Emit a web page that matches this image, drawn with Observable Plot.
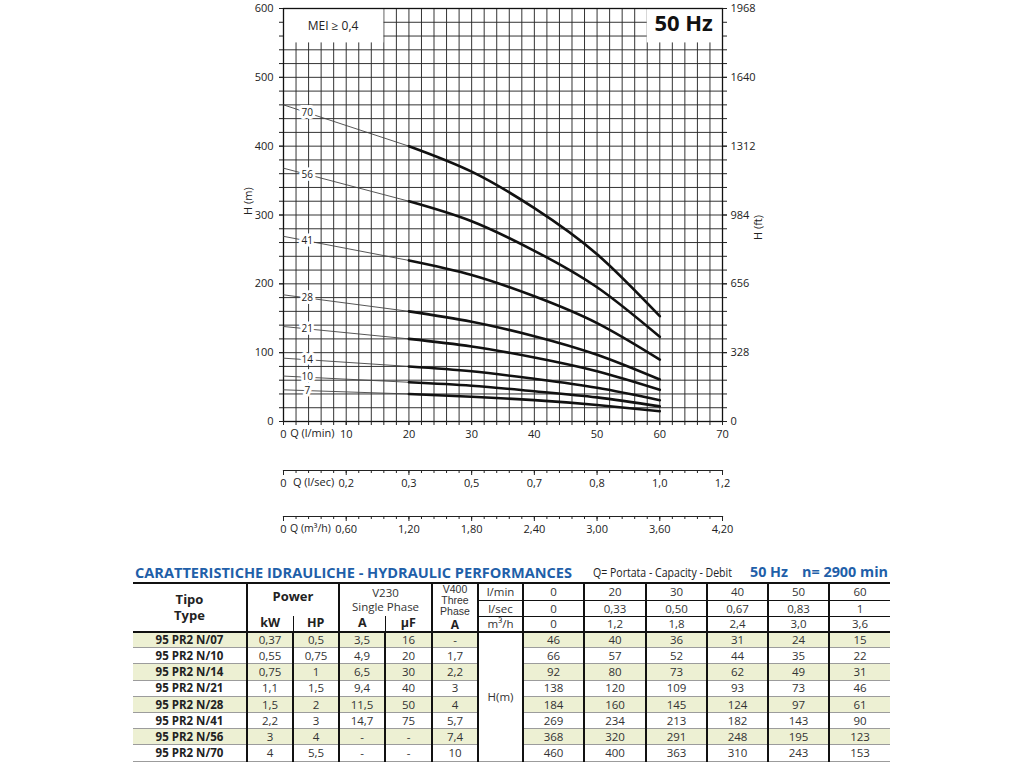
<!DOCTYPE html>
<html><head><meta charset="utf-8">
<script src="https://cdn.jsdelivr.net/npm/d3@7"></script>
<script src="https://cdn.jsdelivr.net/npm/@observablehq/plot@0.6"></script>
<style>
body{margin:0;background:#fff;font-family:"Open Sans",sans-serif;color:#222;}
#page{position:relative;width:1024px;height:768px;overflow:hidden;background:#fff;}
.abs{position:absolute;white-space:nowrap;}
#title{left:135px;top:562px;font-size:15px;font-weight:700;color:#1f5fa9;line-height:20px;}
#sub1{left:593px;top:564px;font-size:12px;color:#222;line-height:18px;}
#sub2{left:750px;top:562px;font-size:14.5px;font-weight:700;color:#1f5fa9;line-height:20px;}
#sub3{left:802px;top:562px;font-size:14.5px;font-weight:700;color:#1f5fa9;line-height:20px;}
#tbl{left:133px;top:582px;}
table{border-collapse:collapse;table-layout:fixed;width:757px;font-size:11.5px;color:#333;}
td{padding:0;text-align:center;vertical-align:middle;border-left:2px solid #111;border-right:2px solid #111;
   border-top:1px solid #9c9c9c;border-bottom:1px solid #9c9c9c;line-height:1;white-space:nowrap;}
td.first{border-left:none;}
td.last{border-right:none;}
tr.h1 td{border-top:2px solid #111;}
tr.h1 td.q, tr.h2 td{border-bottom:1px solid #111;}
tr.h3 td, td.tipo, td.v400{border-bottom:2px solid #111;}
td.nb{border-bottom:none !important;}
tr.h3 td.sub{border-top:none;font-weight:700;font-size:12.5px;color:#222;line-height:14px;}
td.kw,td.a{border-right:1px solid #111;}
td.hp,td.uf{border-left:1px solid #111;}
td.tipo{font-weight:700;font-size:13px;line-height:16px;color:#222;}
td.pw{font-weight:700;font-size:13px;color:#222;vertical-align:top;padding-top:6px;}
td.v230{font-size:11.5px;line-height:14px;color:#333;vertical-align:top;padding-top:2px;}
td.v400{font-family:"Liberation Sans",Arial,sans-serif;font-size:10.5px;color:#333;}
td.v400 div{line-height:11.2px;height:11.2px;}
td.v400 div.bA{font-family:"Open Sans",sans-serif;font-weight:700;font-size:12px;color:#222;line-height:13px;height:13px;}
td.name{font-weight:700;color:#222;}
tr.h1{height:17px;} tr.h2{height:16px;} tr.h3{height:15px;}
tr.b{height:16.2px;}
tr.alt td{background:#edf0d3;}
td.hm{background:#fff !important;}
</style></head><body>
<div id="page">
  <div id="main" class="abs" style="left:0;top:0;"></div>
  <div id="sec1" class="abs" style="left:0;top:450px;"></div>
  <div id="sec2" class="abs" style="left:0;top:496px;"></div>
  <div id="title" class="abs">CARATTERISTICHE IDRAULICHE - HYDRAULIC PERFORMANCES</div>
  <div id="sub1" class="abs">Q= Portata - Capacity - Debit</div>
  <div id="sub2" class="abs">50 Hz</div>
  <div id="sub3" class="abs">n= 2900 min</div>
  <div id="tbl" class="abs"></div>
</div>
<script>
// ---------- data ----------
const flowLmin = [0, 20, 30, 40, 50, 60];
const flowLsecLabels = ["0", "0,33", "0,50", "0,67", "0,83", "1"];
const flowM3hLabels = ["0", "1,2", "1,8", "2,4", "3,0", "3,6"];

const modelNames = ["95 PR2 N/07", "95 PR2 N/10", "95 PR2 N/14", "95 PR2 N/21", "95 PR2 N/28", "95 PR2 N/41", "95 PR2 N/56", "95 PR2 N/70"];
const stageLabels = ["7", "10", "14", "21", "28", "41", "56", "70"];
const powerKW = ["0,37", "0,55", "0,75", "1,1", "1,5", "2,2", "3", "4"];
const powerHP = ["0,5", "0,75", "1", "1,5", "2", "3", "4", "5,5"];
const ampSingle = ["3,5", "4,9", "6,5", "9,4", "11,5", "14,7", "-", "-"];
const capUF = ["16", "20", "30", "40", "50", "75", "-", "-"];
const ampThree = ["-", "1,7", "2,2", "3", "4", "5,7", "7,4", "10"];

const h07 = [46, 40, 36, 31, 24, 15];
const h10 = [66, 57, 52, 44, 35, 22];
const h14 = [92, 80, 73, 62, 49, 31];
const h21 = [138, 120, 109, 93, 73, 46];
const h28 = [184, 160, 145, 124, 97, 61];
const h41 = [269, 234, 213, 182, 143, 90];
const h56 = [368, 320, 291, 248, 195, 123];
const h70 = [460, 400, 363, 310, 243, 153];
const heads = [h07, h10, h14, h21, h28, h41, h56, h70];

// axes / ticks
const qMajor = [0, 10, 20, 30, 40, 50, 60, 70];
const qMajorLabels = ["0", "10", "20", "30", "40", "50", "60", "70"];
const lsecLabels = ["0", "0,2", "0,3", "0,5", "0,7", "0,8", "1,0", "1,2"];
const m3hLabels = ["0", "0,60", "1,20", "1,80", "2,40", "3,00", "3,60", "4,20"];
const qGrid = d3.range(0, 71, 2);
const hMajor = [0, 100, 200, 300, 400, 500, 600];
const hGrid = d3.range(0, 601, 20);
const ftLabels = ["0", "328", "656", "984", "1312", "1640", "1968"];

// annotation boxes and texts
const boxes = [{q1: 0, q2: 16, h1: 550, h2: 600}, {q1: 58, q2: 70, h1: 550, h2: 600}];
const meiNote = [{q: 7.9, h: 575, t: "MEI ≥ 0,4"}];
const hzNote = [{q: 63.8, h: 577, t: "50 Hz"}];
const labelQ = 3.8;

// ---------- derived tables ----------
const thin = [], bold = [], lab = [];
heads.forEach((h, k) => {
  [0, 1].forEach(i => thin.push({s: stageLabels[k], q: flowLmin[i], h: h[i]}));
  [1, 2, 3, 4, 5].forEach(i => bold.push({s: stageLabels[k], q: flowLmin[i], h: h[i]}));
  lab.push({s: stageLabels[k], q: labelQ, h: h[0] + (h[1] - h[0]) * labelQ / (flowLmin[1] - flowLmin[0])});
});

const fmt = (labels) => d => labels[qMajor.indexOf(d)];
const style = {fontFamily: "Open Sans", fontSize: "11px", color: "#222", background: "transparent"};

const main = Plot.plot({
  width: 1024, height: 450, marginLeft: 283, marginRight: 302, marginTop: 8, marginBottom: 29,
  x: {domain: [0, 70], label: null},
  y: {domain: [0, 600], label: null},
  style,
  marks: [
    Plot.gridX(qGrid, {stroke: "#2a2a2a", strokeOpacity: 1, strokeWidth: 0.95}),
    Plot.gridY(hGrid, {stroke: "#2a2a2a", strokeOpacity: 1, strokeWidth: 0.95}),
    Plot.rect(boxes, {x1: "q1", x2: "q2", y1: "h1", y2: "h2", fill: "white"}),
    Plot.frame({stroke: "#111", strokeWidth: 1.3}),
    Plot.axisY(hGrid, {anchor: "left", tickSize: 4, tickFormat: () => "", label: null}),
    Plot.axisY(hMajor, {anchor: "left", tickSize: 4, tickPadding: 6, label: null}),
    Plot.axisY(hGrid, {anchor: "right", tickSize: 4, tickFormat: () => "", label: null}),
    Plot.axisY(hMajor, {anchor: "right", tickSize: 4, tickPadding: 4, tickFormat: d => ftLabels[hMajor.indexOf(d)], label: null}),
    Plot.axisX(qGrid, {tickSize: 4, tickFormat: () => "", label: null}),
    Plot.axisX(qMajor, {tickSize: 4, tickPadding: 5, tickFormat: fmt(qMajorLabels), label: null}),
    Plot.text(["H (m)"], {frameAnchor: "left", dx: -35, rotate: -90, fontSize: 11}),
    Plot.text(["H (ft)"], {frameAnchor: "right", dx: 36, rotate: -90, fontSize: 11}),
    Plot.text([{q: 4.6, t: "Q (l/min)"}], {x: "q", text: "t", frameAnchor: "bottom", dy: 15, fontSize: 11}),
    Plot.line(thin, {x: "q", y: "h", z: "s", stroke: "#444", strokeWidth: 0.9}),
    Plot.line(bold, {x: "q", y: "h", z: "s", stroke: "#111", strokeWidth: 2.6, curve: "natural"}),
    Plot.text(lab, {x: "q", y: "h", text: "s", fontSize: 10, fill: "#222", stroke: "white", strokeWidth: 6, paintOrder: "stroke"}),
    Plot.text(meiNote, {x: "q", y: "h", text: "t", fontSize: 12, fill: "#222"}),
    Plot.text(hzNote, {x: "q", y: "h", text: "t", fontSize: 22, fontWeight: "bold", fill: "#111"})
  ]
});
document.getElementById("main").append(main);

function secAxis(labels, title, pos, fs) {
  return Plot.plot({
    width: 1024, height: 45, marginLeft: 283, marginRight: 302, marginTop: 19, marginBottom: 25,
    x: {domain: [0, 70], label: null},
    style,
    marks: [
      Plot.frame({anchor: "bottom", stroke: "#222", strokeWidth: 1.2}),
      Plot.axisX(qGrid, {tickSize: 3, tickFormat: () => "", label: null}),
      Plot.axisX(qMajor, {tickSize: 5, tickPadding: 4, tickFormat: fmt(labels), label: null}),
      Plot.text([{q: pos, t: title}], {x: "q", text: "t", frameAnchor: "bottom", dy: 15, fontSize: fs})
    ]
  });
}
document.getElementById("sec1").append(secAxis(lsecLabels, "Q (l/sec)", 4.8, 11));
document.getElementById("sec2").append(secAxis(m3hLabels, "Q (m³/h)", 4.3, 10.5));

// ---------- table ----------
let html = '<table><colgroup>' + [114, 46, 46, 46, 47, 46, 45, 61, 62, 61, 61, 61, 61].map(w => `<col style="width:${w}px">`).join('') + '</colgroup>';
const vals = (arr, cls) => arr.map((v, i) => `<td class="${cls || ''}${i === arr.length - 1 ? ' last' : ''}">${v}</td>`).join('');
html += `<tr class="h1"><td rowspan="3" class="first tipo">Tipo<br>Type</td>
<td colspan="2" rowspan="2" class="pw nb">Power</td>
<td colspan="2" rowspan="2" class="v230 nb">V230<br>Single Phase</td>
<td rowspan="3" class="v400"><div>V400</div><div>Three</div><div>Phase</div><div class="bA">A</div></td>
<td class="q">l/min</td>${vals(flowLmin, 'q')}</tr>`;
html += `<tr class="h2"><td>l/sec</td>${vals(flowLsecLabels)}</tr>`;
html += `<tr class="h3"><td class="sub kw">kW</td><td class="sub hp">HP</td><td class="sub a">A</td><td class="sub uf">µF</td><td>m³/h</td>${vals(flowM3hLabels)}</tr>`;
modelNames.forEach((m, k) => {
  html += `<tr class="b${k % 2 === 0 ? ' alt' : ''}"><td class="first name">${m}</td><td>${powerKW[k]}</td><td>${powerHP[k]}</td><td>${ampSingle[k]}</td><td>${capUF[k]}</td><td>${ampThree[k]}</td>`;
  if (k === 0) html += `<td rowspan="${modelNames.length}" class="hm">H(m)</td>`;
  html += vals(heads[k]) + '</tr>';
});
html += '</table>';
document.getElementById("tbl").innerHTML = html;

// fit header texts to the reference widths
function fit(id, w) {
  const el = document.getElementById(id);
  const r = el.getBoundingClientRect().width;
  el.style.transformOrigin = "left center";
  el.style.transform = `scaleX(${w / r})`;
}
fit("title", 437); fit("sub1", 139); fit("sub2", 38); fit("sub3", 86);
</script>
</body></html>
